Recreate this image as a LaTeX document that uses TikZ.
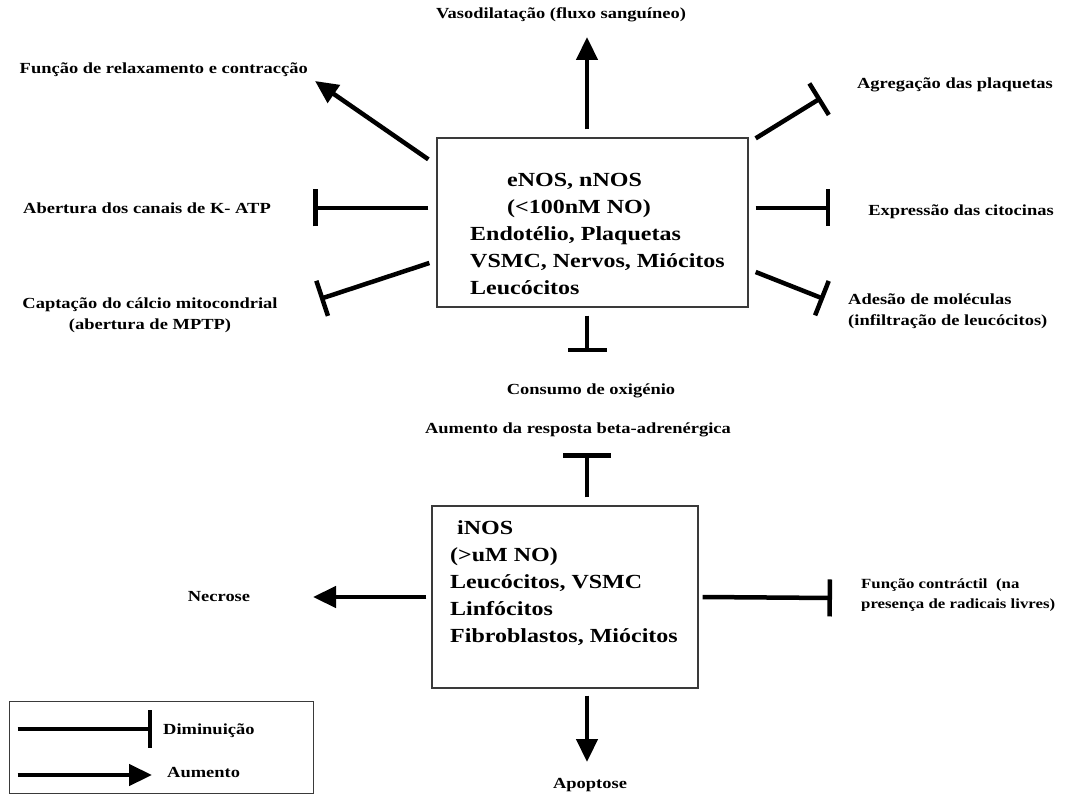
\documentclass[tikz,border=0pt]{standalone}
\usepackage{fontspec}
\setmainfont{Liberation Serif}[FakeStretch=1.2]
\usetikzlibrary{arrows.meta}
\definecolor{BoxGray}{HTML}{3A3A3A}

\tikzset{
  promote/.style={line width=4.5pt,-{Triangle[length=23pt,width=21pt]}},
  inhib/.style={line width=4.5pt,-{Bar[width=37pt]}},
  nosbox/.style={draw=BoxGray,line width=1.3pt,inner sep=0pt},
  nostext/.style={font=\fontsize{20}{27}\selectfont\bfseries,align=left,inner sep=0pt,anchor=west},
  effect/.style={font=\fontsize{15.4}{21}\selectfont\bfseries,inner sep=0pt}
}

\begin{document}
\begin{tikzpicture}[x=1pt,y=-1pt]
    \useasboundingbox[fill=white] (0,0) rectangle (1070,794);

    \node[nosbox,minimum width=311pt,minimum height=169pt] (enos) at (592.5,222.5) {};
    \node[nostext] (enostxt) at (470,234) {\hspace*{37pt}eNOS, nNOS\\
      \hspace*{37pt}(<100nM NO)\\
      Endotélio, Plaquetas\\
      VSMC, Nervos, Miócitos\\
      Leucócitos};

    \node[nosbox,minimum width=266pt,minimum height=182pt] (inos) at (565,597) {};
    \node[nostext] (inostxt) at (450,583) {\hspace*{7pt}iNOS\\
      (>uM NO)\\
      Leucócitos, VSMC\\
      Linfócitos\\
      Fibroblastos, Miócitos};

    \node[effect] (vaso) at (561,15) {Vasodilatação (fluxo sanguíneo)};
    \node[effect,anchor=east] (relax) at (308,70) {Função de relaxamento e contracção};
    \node[effect] (katp) at (147,208) {Abertura dos canais de K- ATP};
    \node[effect,align=center] (calcio) at (150,315) {Captação do cálcio mitocondrial\\(abertura de MPTP)};
    \node[effect] (plaq) at (955,85) {Agregação das plaquetas};
    \node[effect] (cito) at (961,212) {Expressão das citocinas};
    \node[effect,align=left,anchor=west] (adesao) at (848,311) {Adesão de moléculas\\(infiltração de leucócitos)};
    \node[effect] (oxig) at (591,391) {Consumo de oxigénio};
    \node[effect] (beta) at (578,430) {Aumento da resposta beta-adrenérgica};
    \node[effect] (necrose) at (219,597) {Necrose};
    \node[effect,align=left,anchor=west,font=\fontsize{14}{20}\selectfont\bfseries] (contract) at (861,595) {Função contráctil~ (na\\presença de radicais livres)};
    \node[effect] (apopt) at (590,785) {Apoptose};

    \coordinate (vasotip) at (587,37);
    \coordinate (relaxtip) at (315,81);
    \coordinate (katpbar) at (313,208);
    \coordinate (calciobar) at (320,299);
    \coordinate (plaqbar) at (821,98);
    \coordinate (citobar) at (830,208);
    \coordinate (adesaobar) at (824,299);
    \coordinate (oxigbar) at (587,352);
    \coordinate (betabar) at (587,453);
    \coordinate (necrotip) at (313,597);
    \coordinate (contrbar) at (832,598);
    \coordinate (apopttip) at (587,762);

    \draw[promote] ([xshift=-5.5pt,yshift=8pt]enos.north) -- (vasotip);
    \draw[promote] ([xshift=-8pt,yshift=-22pt]enos.north west) -- (relaxtip);
    \draw[inhib] ([xshift=-8pt,yshift=14.5pt]enos.west) -- (katpbar);
    \draw[inhib] ([xshift=-7pt,yshift=-40.5pt]enos.west) -- (calciobar);
    \draw[inhib] ([xshift=7pt,yshift=-1pt]enos.north east) -- (plaqbar);
    \draw[inhib] ([xshift=7pt,yshift=14.5pt]enos.east) -- (citobar);
    \draw[inhib] ([xshift=7pt,yshift=-49.5pt]enos.east) -- (adesaobar);
    \draw[inhib,-{Bar[width=39pt]}] ([xshift=-5.5pt,yshift=-8pt]enos.south) -- (oxigbar);
    \draw[inhib,-{Bar[width=48pt]}] ([xshift=22pt,yshift=8pt]inos.north) -- (betabar);
    \draw[promote] ([xshift=-5pt]inos.west) -- (necrotip);
    \draw[inhib] ([xshift=4pt]inos.east) -- (contrbar);
    \draw[promote] ([xshift=22pt,yshift=-7pt]inos.south) -- (apopttip);

    \node[draw=BoxGray,line width=1pt,minimum width=304pt,minimum height=92pt,inner sep=0pt] (legend) at (161,747) {};
    \node[effect,anchor=west] (dimin) at (163,731) {Diminuição};
    \node[effect,anchor=west] (aum) at (167,773) {Aumento};
    \coordinate (dimbar) at (152,729);
    \coordinate (aumtip) at (152,775);
    \draw[inhib,-{Bar[width=38pt]}] ([xshift=9pt,yshift=18pt]legend.west) -- (dimbar);
    \draw[promote] ([xshift=9pt,yshift=-28pt]legend.west) -- (aumtip);
  \end{tikzpicture}
\end{document}
